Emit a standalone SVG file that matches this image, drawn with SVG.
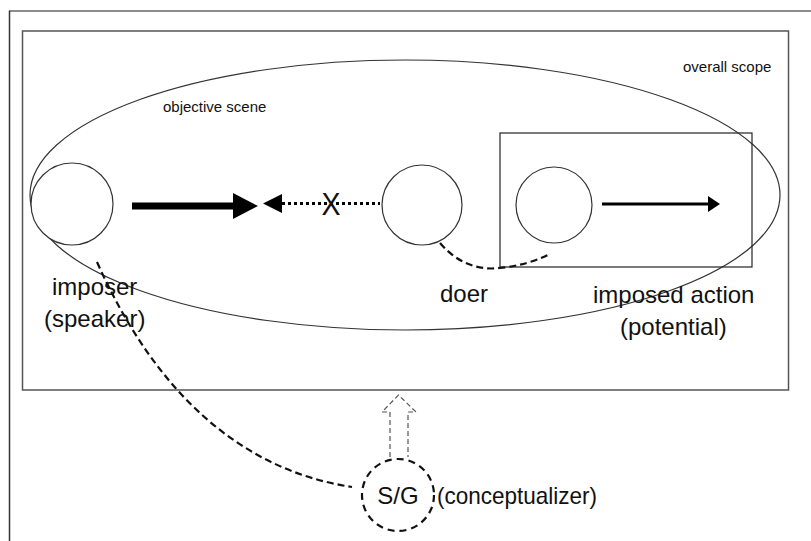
<svg xmlns="http://www.w3.org/2000/svg" width="811" height="541" viewBox="0 0 811 541">
<defs>
<style>
.t{font-family:"Liberation Sans",Arial,sans-serif;fill:#111}
.big{font-size:24px}
.sm{font-size:15px}
.node{fill:#fff;stroke:#333;stroke-width:1.2}
.dash{fill:none;stroke:#111;stroke-width:2.2;stroke-dasharray:7 4}
</style>
</defs>
<rect width="811" height="541" fill="#fff"/>
<g id="frame">
<line x1="9.5" y1="11" x2="811" y2="11" stroke="#666" stroke-width="1.5"/>
<line x1="9.5" y1="10.5" x2="9.5" y2="541" stroke="#333" stroke-width="1.5"/>
</g>
<g id="overall-scope">
<rect x="22.5" y="31" width="766" height="359" fill="none" stroke="#555" stroke-width="1.5"/>
<text class="t sm" x="683" y="72">overall scope</text>
</g>
<g id="objective-scene">
<ellipse cx="405" cy="195" rx="375" ry="135" fill="none" stroke="#333" stroke-width="1.2"/>
<text class="t sm" x="163" y="112">objective scene</text>
</g>
<g id="imposed-action-box">
<rect x="500" y="133" width="252" height="134" fill="none" stroke="#222" stroke-width="1.2"/>
</g>
<g id="imposer">
<circle class="node" cx="72" cy="204" r="41"/>
<text class="t big" x="52" y="295">imposer</text>
<text class="t big" x="44" y="327">(speaker)</text>
</g>
<g id="doer">
<circle class="node" cx="422" cy="205" r="40"/>
<text class="t big" x="440" y="302">doer</text>
</g>
<g id="imposed-action">
<circle class="node" cx="554" cy="205" r="38"/>
<text class="t big" x="593" y="303">imposed action</text>
<text class="t big" x="620" y="335">(potential)</text>
</g>
<g id="conceptualizer">
<circle cx="398" cy="495" r="36" fill="none" stroke="#111" stroke-width="2.2" stroke-dasharray="7 5"/>
<text class="t big" x="398" y="504" text-anchor="middle">S/G</text>
<text class="t big" x="437" y="504" textLength="160" lengthAdjust="spacingAndGlyphs">(conceptualizer)</text>
</g>
<g id="connectors">
<line x1="132" y1="206" x2="235" y2="206" stroke="#000" stroke-width="7"/>
<polygon points="233,193 258,206 233,219" fill="#000"/>
<line x1="282" y1="203.5" x2="380" y2="203.5" stroke="#000" stroke-width="3" stroke-dasharray="3 3"/>
<polygon points="263,203.5 282,194 282,213" fill="#000"/>
<text class="t" x="331" y="215" font-size="31" text-anchor="middle" textLength="19" lengthAdjust="spacingAndGlyphs">X</text>
<line x1="602" y1="204" x2="710" y2="204" stroke="#000" stroke-width="3"/>
<polygon points="708,196 720,204 708,212" fill="#000"/>
<path class="dash" d="M440,243 Q465,272 500,268 Q528,265 550,254"/>
<path class="dash" d="M97,262 C155,392 240,470 352,487"/>
<path d="M390,457 L390,412 L382,412 L398.5,395 L416,412 L408,412 L408,457" fill="none" stroke="#555" stroke-width="1.2" stroke-dasharray="5 3"/>
</g>
</svg>
